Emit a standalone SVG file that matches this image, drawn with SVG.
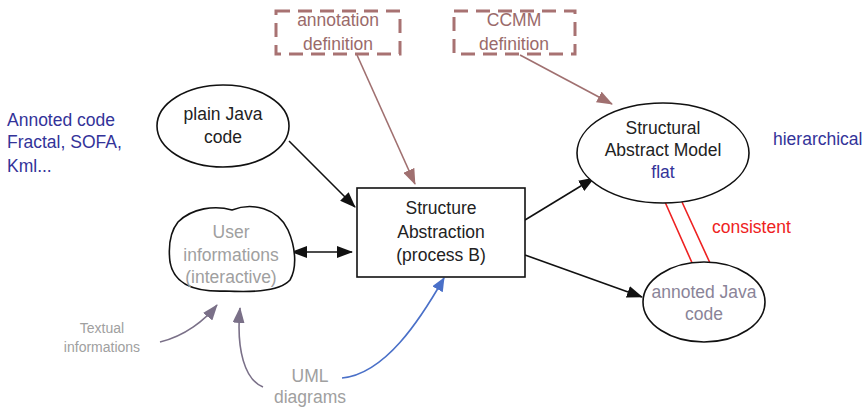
<svg xmlns="http://www.w3.org/2000/svg" width="865" height="407" viewBox="0 0 865 407">
<style>
text{font-family:"Liberation Sans",Arial,sans-serif;font-size:17.5px;text-anchor:middle}
.blk{fill:#222}
.node{fill:#fff;stroke:#111;stroke-width:1.6}
.dash{fill:none;stroke:#a87272;stroke-width:3;stroke-dasharray:14,8}
.dtxt{fill:#9a6a6a}
.gray{fill:#a0a0a0}
.purp{fill:#8a8498}
.blue{fill:#333399}
.con{fill:none;stroke-width:1.6}
</style>
<defs>
<marker id="ab" markerWidth="16" markerHeight="12" refX="15" refY="6" orient="auto" markerUnits="userSpaceOnUse"><path d="M0,0 L16,6 L0,12 Z" fill="#111"/></marker>
<marker id="abs" markerWidth="16" markerHeight="12" refX="1" refY="6" orient="auto" markerUnits="userSpaceOnUse"><path d="M16,0 L0,6 L16,12 Z" fill="#111"/></marker>
<marker id="ar" markerWidth="16" markerHeight="12" refX="15" refY="6" orient="auto" markerUnits="userSpaceOnUse"><path d="M0,0 L16,6 L0,12 Z" fill="#a07070"/></marker>
<marker id="ap" markerWidth="16" markerHeight="12" refX="15" refY="6" orient="auto" markerUnits="userSpaceOnUse"><path d="M0,0 L16,6 L0,12 Z" fill="#7a7088"/></marker>
<marker id="abl" markerWidth="14" markerHeight="12" refX="13" refY="6" orient="auto" markerUnits="userSpaceOnUse"><path d="M0,0 L14,6 L0,12 Z" fill="#4a70c8"/></marker>
</defs>
<g id="connectors">
<path class="con" stroke="#a07070" d="M357,55 L415,184" marker-end="url(#ar)"/>
<path class="con" stroke="#a07070" d="M520,55 L612,104" marker-end="url(#ar)"/>
<path class="con" stroke="#111" d="M289,141 L355,207" marker-end="url(#ab)"/>
<path class="con" stroke="#111" d="M292,252 L352,252" marker-start="url(#abs)" marker-end="url(#ab)"/>
<path class="con" stroke="#111" d="M525,220 L594,178" marker-end="url(#ab)"/>
<path class="con" stroke="#111" d="M525,255 L642,297" marker-end="url(#ab)"/>
<path class="con" stroke="#ee2222" stroke-width="2.2" d="M665,202 L693,265 M682,202 L710,263"/>
<path class="con" stroke="#7a7088" d="M160,342 C185,336 205,320 217,305" marker-end="url(#ap)"/>
<path class="con" stroke="#7a7088" d="M263,387 C245,380 236,350 240,308" marker-end="url(#ap)"/>
<path class="con" stroke="#4a70c8" stroke-width="2.4" d="M342,378 C385,374 420,320 444,278" marker-end="url(#abl)"/>
</g>
<g id="annotation-definition">
<rect class="dash" x="276" y="11" width="124" height="43"/>
<text class="dtxt" x="338" y="26">annotation</text>
<text class="dtxt" x="338" y="50">definition</text>
</g>
<g id="ccmm-definition">
<rect class="dash" x="454" y="11" width="121" height="43"/>
<text class="dtxt" x="514" y="26">CCMM</text>
<text class="dtxt" x="514" y="50">definition</text>
</g>
<g id="plain-java">
<ellipse class="node" cx="223" cy="126" rx="66" ry="41"/>
<text class="blk" x="223" y="120">plain Java</text>
<text class="blk" x="223" y="143">code</text>
</g>
<g id="user-informations">
<path class="node" d="M178,222 C192,208 215,205 232,210 C252,202 278,208 288,230 C296,248 297,268 290,280 C278,293 245,292 225,291 C195,292 174,285 170,262 C168,245 170,232 178,222 Z"/>
<text class="gray" x="231" y="238">User</text>
<text class="gray" x="231" y="261">informations</text>
<text class="gray" x="231" y="283">(interactive)</text>
</g>
<g id="structure-abstraction">
<rect class="node" x="357" y="188" width="168" height="89"/>
<text class="blk" x="441" y="214">Structure</text>
<text class="blk" x="441" y="238">Abstraction</text>
<text class="blk" x="441" y="261">(process B)</text>
</g>
<g id="structural-abstract-model">
<ellipse class="node" cx="663" cy="153" rx="86" ry="50"/>
<text class="blk" x="663" y="134">Structural</text>
<text class="blk" x="663" y="156">Abstract Model</text>
<text class="blue" x="663" y="178">flat</text>
</g>
<g id="annoted-java">
<ellipse class="node" cx="704" cy="302" rx="61" ry="40"/>
<text class="purp" x="704" y="298">annoted Java</text>
<text class="purp" x="704" y="320">code</text>
</g>
<g id="labels">
<text class="blue" x="7" y="126" style="text-anchor:start">Annoted code</text>
<text class="blue" x="7" y="148" style="text-anchor:start">Fractal, SOFA,</text>
<text class="blue" x="7" y="172" style="text-anchor:start">Kml...</text>
<text class="blue" x="773" y="145" style="text-anchor:start">hierarchical</text>
<text x="712" y="233" style="text-anchor:start;fill:#ee2222">consistent</text>
<text class="gray" x="102" y="333" style="font-size:14px">Textual</text>
<text class="gray" x="102" y="352" style="font-size:14px">informations</text>
<text class="gray" x="310" y="382">UML</text>
<text class="gray" x="310" y="403">diagrams</text>
</g>
</svg>
